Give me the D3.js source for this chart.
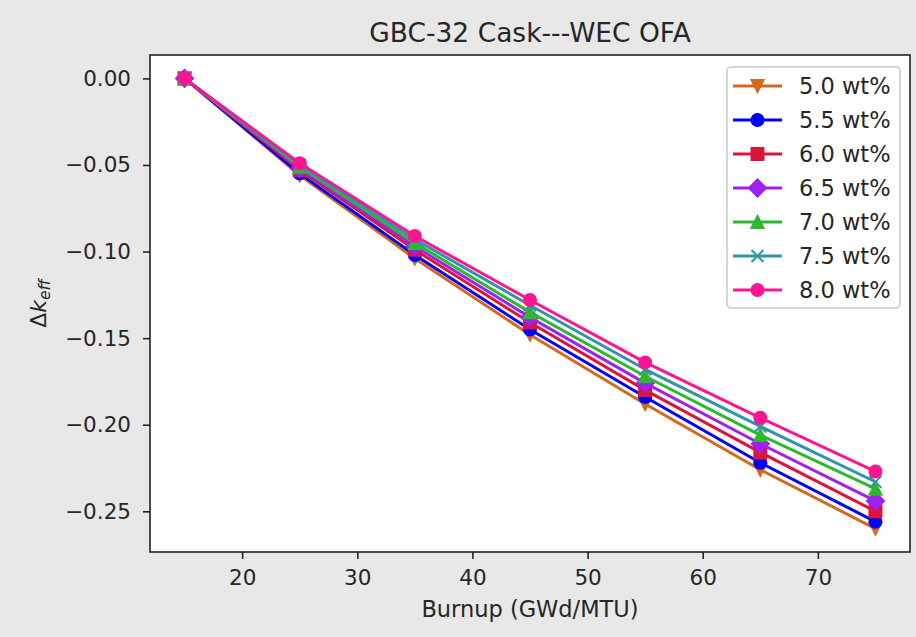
<!DOCTYPE html>
<html><head><meta charset="utf-8">
<script src="https://cdn.jsdelivr.net/npm/d3@7"></script>
<style>
body{margin:0;background:#e8e8e8;}
svg{display:block;}
text{font-family:"DejaVu Sans",sans-serif;fill:#262626;}
</style>
</head><body><svg id="c" width="916" height="637"></svg>
<script>
// ---- data ----
const burnup = [15, 25, 35, 45, 55, 65, 75];
const seriesLabels = ["5.0 wt%", "5.5 wt%", "6.0 wt%", "6.5 wt%", "7.0 wt%", "7.5 wt%", "8.0 wt%"];
const dk50 = [0, -0.056, -0.104, -0.148, -0.188, -0.226, -0.260];
const dk55 = [0, -0.055, -0.102, -0.145, -0.184, -0.222, -0.256];
const dk60 = [0, -0.053, -0.099, -0.141, -0.180, -0.216, -0.250];
const dk65 = [0, -0.052, -0.097, -0.138, -0.176, -0.211, -0.244];
const dk70 = [0, -0.051, -0.095, -0.135, -0.172, -0.206, -0.237];
const dk75 = [0, -0.050, -0.093, -0.131, -0.168, -0.201, -0.233];
const dk80 = [0, -0.049, -0.091, -0.128, -0.164, -0.196, -0.227];
const xTicks = [20, 30, 40, 50, 60, 70];
const yTicks = [0, -0.05, -0.10, -0.15, -0.20, -0.25];
const titleText = "GBC-32 Cask---WEC OFA";
const xLabel = "Burnup (GWd/MTU)";

// ---- styles ----
const colors = ["#d2691e", "#0000ff", "#dc143c", "#a020f0", "#2db82d", "#2f95aa", "#ff1493"];
const markers = ["tridown", "circle", "square", "diamond", "triup", "x", "circle"];
const allSeries = [dk50, dk55, dk60, dk65, dk70, dk75, dk80];

const W = 916, H = 637;
const L = 150, R = 910, T = 55, B = 552;
const svg = d3.select("#c");
svg.append("rect").attr("width", W).attr("height", H).attr("fill", "#e8e8e8");

const x = d3.scaleLinear().domain([12, 78]).range([L, R]);
const y = d3.scaleLinear().domain([0.0135, -0.2735]).range([T, B]);

svg.append("rect").attr("x", L).attr("y", T).attr("width", R - L).attr("height", B - T).attr("fill", "#fff");

function markerPath(type, s) {
  const h = s / 2;
  switch (type) {
    case "circle": return `M${h},0A${h},${h} 0 1,1 ${-h},0A${h},${h} 0 1,1 ${h},0Z`;
    case "square": return `M${-h},${-h}H${h}V${h}H${-h}Z`;
    case "tridown": return `M0,${h}L${-h},${-h}L${h},${-h}Z`;
    case "triup": return `M0,${-h}L${-h},${h}L${h},${h}Z`;
    case "diamond": { const d = s * 0.7071; return `M0,${-d}L${d},0L0,${d}L${-d},0Z`; }
    case "x": return `M${-h},${-h}L${h},${h}M${-h},${h}L${h},${-h}`;
  }
}

const plot = svg.append("g");
const line = d3.line().x((d, i) => x(burnup[i])).y(d => y(d));
allSeries.forEach((vals, k) => {
  const g = plot.append("g");
  g.append("path").attr("d", line(vals)).attr("fill", "none")
    .attr("stroke", colors[k]).attr("stroke-width", 3).attr("stroke-linejoin", "round").attr("stroke-linecap", "square");
  g.selectAll("path.m").data(vals).enter().append("path").attr("class", "m")
    .attr("transform", (d, i) => `translate(${x(burnup[i])},${y(d)})`)
    .attr("d", markerPath(markers[k], 12))
    .attr("fill", markers[k] === "x" ? "none" : colors[k])
    .attr("stroke", colors[k]).attr("stroke-width", 2);
});

// axes
const xAxis = svg.append("g").attr("transform", `translate(0,${B})`)
  .call(d3.axisBottom(x).tickValues(xTicks).tickSize(7).tickPadding(11).tickFormat(d3.format("d")));
const yAxis = svg.append("g").attr("transform", `translate(${L},0)`)
  .call(d3.axisLeft(y).tickValues(yTicks).tickSize(7).tickPadding(12).tickFormat(d => d3.format(".2f")(d).replace("-", "\u2212")));
[xAxis, yAxis].forEach(a => {
  a.select(".domain").remove();
  a.selectAll(".tick line").attr("stroke", "#222").attr("stroke-width", 1.6);
  a.selectAll(".tick text").attr("font-size", 21.5).attr("font-family", "DejaVu Sans").attr("fill", "#262626");
});

// frame
svg.append("rect").attr("x", L).attr("y", T).attr("width", R - L).attr("height", B - T)
  .attr("fill", "none").attr("stroke", "#222").attr("stroke-width", 1.6);

// title & labels
svg.append("text").attr("x", (L + R) / 2).attr("y", 42).attr("text-anchor", "middle")
  .attr("font-size", 26.5).text(titleText);
svg.append("text").attr("x", (L + R) / 2).attr("y", 617).attr("text-anchor", "middle")
  .attr("font-size", 22.5).text(xLabel);
const yl = svg.append("text").attr("transform", `translate(46,${(T + B) / 2}) rotate(-90)`)
  .attr("text-anchor", "middle").attr("font-size", 22);
yl.append("tspan").text("\u0394");
yl.append("tspan").attr("font-style", "italic").text("k");
yl.append("tspan").attr("font-style", "italic").attr("font-size", 15.5).attr("dy", 4).text("eff");

// legend
const lg = svg.append("g");
lg.append("rect").attr("x", 727).attr("y", 67).attr("width", 173).attr("height", 241).attr("rx", 4)
  .attr("fill", "#fff").attr("fill-opacity", 0.8).attr("stroke", "#cccccc").attr("stroke-width", 1.6);
seriesLabels.forEach((lab, k) => {
  const cy = 86 + k * 34;
  lg.append("line").attr("x1", 733).attr("x2", 782).attr("y1", cy).attr("y2", cy)
    .attr("stroke", colors[k]).attr("stroke-width", 3);
  lg.append("path").attr("transform", `translate(757.5,${cy})`).attr("d", markerPath(markers[k], 12))
    .attr("fill", markers[k] === "x" ? "none" : colors[k]).attr("stroke", colors[k]).attr("stroke-width", 2);
  lg.append("text").attr("x", 799).attr("y", cy).attr("dy", "0.36em").attr("font-size", 22.5).text(lab);
});
</script>
</body></html>
